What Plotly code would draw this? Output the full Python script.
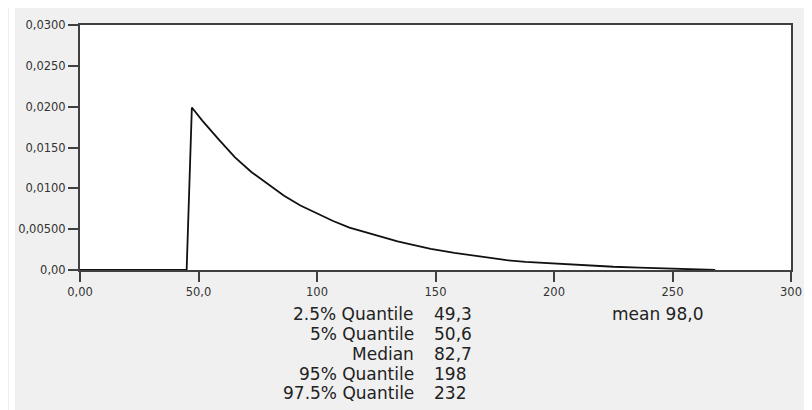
import plotly.graph_objects as go

# Density curve
x_vals = [0, 45, 47.2, 51.6, 58.5, 65.4, 72.3, 79.2, 86.1, 93.0, 99.9, 106.8, 113.7, 120.6, 127.5,
          134, 140, 148, 158, 165, 171, 180, 188, 200, 215, 225, 236, 250, 268]
y_vals = [0, 0, 0.0199, 0.0183, 0.0160, 0.0138, 0.0120, 0.0105, 0.0091, 0.0079, 0.0069, 0.0060,
          0.0052, 0.0046, 0.0040, 0.0035, 0.0031, 0.0026, 0.0021, 0.0018, 0.0015, 0.0012, 0.0010,
          0.0008, 0.0005, 0.0004, 0.0003, 0.0002, 0.0]

x_tickvals = [0, 50, 100, 150, 200, 250, 300]
x_ticktext = ["0,00", "50,0", "100", "150", "200", "250", "300"]
y_tickvals = [0, 0.005, 0.01, 0.015, 0.02, 0.025, 0.03]
y_ticktext = ["0,00", "0,00500", "0,0100", "0,0150", "0,0200", "0,0250", "0,0300"]

quantile_labels = ["2.5% Quantile", "5% Quantile", "Median", "95% Quantile", "97.5% Quantile"]
quantile_values = ["49,3", "50,6", "82,7", "198", "232"]
mean_text = "mean 98,0"

# page has an 8px body margin, so the figure is 804x402 placed at (8, 8)
OFF = 8
W, H = 804, 402
ML, MR, MT, MB = 69, 10, 14, 140
PW = W - ML - MR
PH = H - MT - MB

def px_to_paper_x(px):
    return (px - OFF - ML) / PW

def py_to_paper_y(py):
    return (MT + PH - (py - OFF)) / PH

fig = go.Figure()
fig.add_trace(go.Scatter(x=x_vals, y=y_vals, mode="lines",
                         line=dict(color="#111111", width=1.8), hoverinfo="skip"))

axis_common = dict(showgrid=False, zeroline=False, showline=True, linecolor="#404040",
                   linewidth=2, mirror=True, ticks="outside", ticklen=10, tickwidth=1.5,
                   tickcolor="#404040", tickfont=dict(family="DejaVu Sans", size=11.5, color="#333333"))

fig.update_xaxes(range=[0, 300], tickvals=x_tickvals, ticktext=x_ticktext, **axis_common)
fig.update_yaxes(range=[0, 0.03], tickvals=y_tickvals, ticktext=y_ticktext, **axis_common)

annotations = []
font = dict(family="DejaVu Sans", size=17, color="#222222")
for i, (lab, val) in enumerate(zip(quantile_labels, quantile_values)):
    yy = py_to_paper_y(315 + 20 * i)
    annotations.append(dict(x=px_to_paper_x(420), y=yy, xref="paper", yref="paper",
                            text=lab, showarrow=False, xanchor="right", yanchor="middle", font=font))
    annotations.append(dict(x=px_to_paper_x(436), y=yy, xref="paper", yref="paper",
                            text=val, showarrow=False, xanchor="left", yanchor="middle", font=font))
annotations.append(dict(x=px_to_paper_x(617), y=py_to_paper_y(315), xref="paper", yref="paper",
                        text=mean_text, showarrow=False, xanchor="left", yanchor="middle", font=font))

shapes = [
    # white strip on the left (page x 8..12)
    dict(type="rect", xref="paper", yref="paper", xsizemode="pixel", xanchor=0,
         x0=-ML - 2, x1=-ML + 4, y0=-1, y1=2, fillcolor="white", line=dict(width=0), layer="below"),
]

fig.update_layout(width=W, height=H, margin=dict(l=ML, r=MR, t=MT, b=MB),
                  paper_bgcolor="#f0f0f0", plot_bgcolor="white", showlegend=False,
                  annotations=annotations, shapes=shapes)

fig.write_html("out.html")
